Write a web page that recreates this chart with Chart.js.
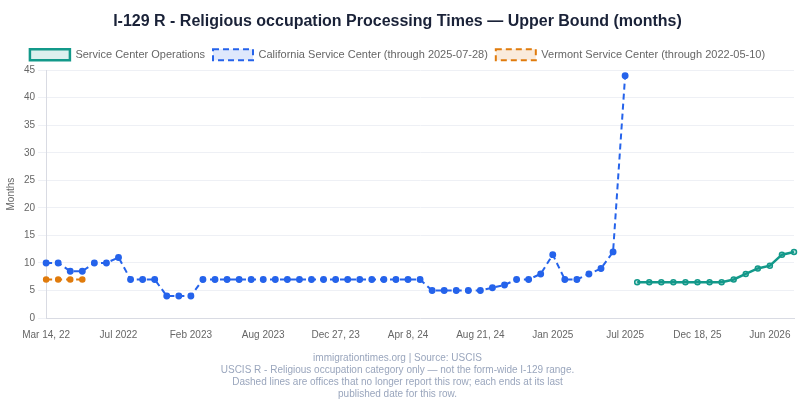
<!DOCTYPE html>
<html>
<head>
<meta charset="utf-8">
<script src="https://cdn.jsdelivr.net/npm/chart.js@4.4.1/dist/chart.umd.min.js"></script>
<style>
html,body{margin:0;padding:0;background:#fff;}
#wrap{width:800px;height:400px;}
</style>
</head>
<body>
<div id="wrap"><canvas id="c"></canvas></div>
<script>
const categories = [
  "Mar 14, 22","Apr 2022","May 2022","May 10, 22","Jun 2022","Jun 21, 22","Jul 2022","Aug 2022","Sep 2022","Oct 2022",
  "Nov 2022","Dec 2022","Feb 2023","Mar 2023","Apr 2023","May 2023","Jun 2023","Jul 2023","Aug 2023","Sep 2023",
  "Sep 26, 23","Oct 2023","Nov 2023","Dec 2023","Dec 27, 23","Jan 2024","Feb 2024","Feb 27, 24","Mar 2024","Mar 26, 24",
  "Apr 8, 24","May 2024","Jun 2024","Jun 25, 24","Jul 2024","Aug 2024","Aug 21, 24","Sep 2024","Oct 2024","Nov 2024",
  "Nov 26, 24","Dec 2024","Jan 2025","Feb 2025","Mar 2025","Apr 2025","May 2025","Jun 2025","Jul 2025","Aug 2025",
  "Sep 2025","Oct 2025","Nov 2025","Dec 2025","Dec 18, 25","Jan 2026","Feb 2026","Mar 2026","Apr 2026","May 2026",
  "Jun 2026","Jun 30, 26","Jul 2026"
];
const N = null;
const serviceCenterOps = [
  N,N,N,N,N,N,N,N,N,N, N,N,N,N,N,N,N,N,N,N, N,N,N,N,N,N,N,N,N,N,
  N,N,N,N,N,N,N,N,N,N, N,N,N,N,N,N,N,N,N,
  6.5,6.5,6.5,6.5,6.5,6.5,6.5,6.5,7,8,9,9.5,11.5,12
];
const californiaSC = [
  10,10,8.5,8.5,10,10,11,7,7,7,
  4,4,4,7,7,7,7,7,7,7,
  7,7,7,7,7,7,7,7,7,7,
  7,7,5,5,5,5,5,5.5,6,7,
  7,8,11.5,7,7,8,9,12,44
];
const vermontSC = [7,7,7,7];
const yTicks = [0,5,10,15,20,25,30,35,40,45];
const footerLines = [
  "immigrationtimes.org | Source: USCIS",
  "USCIS R - Religious occupation category only \u2014 not the form-wide I-129 range.",
  "Dashed lines are offices that no longer report this row; each ends at its last",
  "published date for this row."
];

const TEAL = "#13998a", BLUE = "#2563eb", ORANGE = "#e07b0c";
const FONT = "'Liberation Sans', Arial, Helvetica, sans-serif";

new Chart(document.getElementById('c'), {
  type: 'line',
  data: {
    labels: categories,
    datasets: [
      {
        label: "Service Center Operations",
        data: serviceCenterOps,
        borderColor: TEAL,
        backgroundColor: "rgba(19,153,138,0.15)",
        pointBackgroundColor: "rgba(19,153,138,0.25)",
        borderWidth: 2.5,
        pointRadius: 2.5,
        pointBorderWidth: 1.5,
        tension: 0
      },
      {
        label: "California Service Center (through 2025-07-28)",
        data: californiaSC,
        borderColor: BLUE,
        backgroundColor: "rgba(37,99,235,0.15)",
        pointBackgroundColor: BLUE,
        borderDash: [6,4],
        borderWidth: 2,
        pointRadius: 2.7,
        pointBorderWidth: 1.5,
        tension: 0
      },
      {
        label: "Vermont Service Center (through 2022-05-10)",
        data: vermontSC,
        borderColor: ORANGE,
        backgroundColor: "rgba(224,123,12,0.15)",
        pointBackgroundColor: ORANGE,
        borderDash: [6,4],
        borderWidth: 2,
        pointRadius: 2.5,
        pointBorderWidth: 1.5,
        tension: 0
      }
    ]
  },
  options: {
    responsive: true,
    maintainAspectRatio: false,
    animation: false,
    layout: { padding: { left: 1, right: 6, top: 0, bottom: 0 } },
    plugins: {
      title: {
        display: true,
        text: "I-129 R - Religious occupation Processing Times \u2014 Upper Bound (months)",
        color: "#1a2238",
        font: { family: FONT, size: 16, weight: 'bold' },
        padding: { top: 12, bottom: 10 }
      },
      legend: {
        display: true,
        position: 'top',
        labels: {
          color: "#666",
          font: { family: FONT, size: 11 },
          boxWidth: 40,
          boxHeight: 11,
          padding: 8
        }
      },
      subtitle: {
        display: true,
        position: 'bottom',
        text: footerLines,
        color: "#9aa6bd",
        font: { family: FONT, size: 10, lineHeight: 1.2 },
        padding: { top: 8, bottom: 0 }
      },
      tooltip: { enabled: true }
    },
    scales: {
      x: {
        offset: false,
        grid: { display: false },
        border: { display: true, color: "#d9dbe3" },
        ticks: {
          autoSkip: false,
          maxRotation: 0,
          minRotation: 0,
          color: "#666",
          font: { family: FONT, size: 10 },
          callback: function(v, i) { return i % 6 === 0 ? this.getLabelForValue(v) : ''; }
        }
      },
      y: {
        min: 0,
        max: 45,
        afterBuildTicks: (axis) => { axis.ticks = yTicks.map(v => ({ value: v })); },
        grid: { color: "#eef0f5" },
        border: { display: true, color: "#d9dbe3" },
        ticks: { color: "#666", font: { family: FONT, size: 10 } },
        title: { display: true, text: "Months", color: "#666", font: { family: FONT, size: 10 } }
      }
    }
  }
});
</script>
</body>
</html>
